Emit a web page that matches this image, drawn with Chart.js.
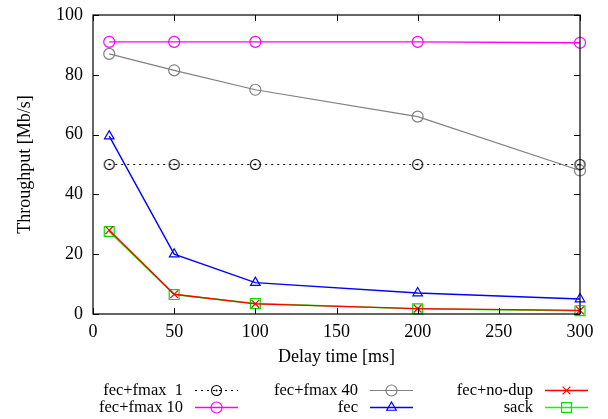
<!DOCTYPE html>
<html lang="en">
<head>
    <meta charset="UTF-8">
    <script src="https://cdn.jsdelivr.net/npm/chart.js"></script>
    <title>Throughput vs delay</title>
    <style>
        body {
            margin: 0;
            padding: 0;
            background-color: #fff;
        }

        .wrap {
            width: 608px;
            height: 419px;
        }
    </style>
</head>
<body>
    <div class="wrap">
        <canvas id="grafico" width="608" height="419"></canvas>
    </div>

    <script>
        // dados
        const delays = [10, 50, 100, 200, 300];
        const fmax1 = [50, 50, 50, 50, 50];
        const fmax10 = [91, 91, 91, 91, 90.7];
        const fmax40 = [87, 81.5, 75, 66, 48];
        const fec = [59.5, 20, 10.5, 7, 5];
        const noDup = [28, 6.6, 3.4, 1.8, 1.2];
        const sack = [27.6, 6.5, 3.5, 1.7, 1.1];

        const xTicks = [0, 50, 100, 150, 200, 250, 300];
        const yTicks = [0, 20, 40, 60, 80, 100];

        const fonte = 'Liberation Serif';

        // círculo com ponto no meio (fec+fmax 1)
        const circuloPonto = document.createElement('canvas');
        circuloPonto.width = 13;
        circuloPonto.height = 13;
        const cp = circuloPonto.getContext('2d');
        cp.strokeStyle = '#000';
        cp.lineWidth = 1.1;
        cp.beginPath();
        cp.arc(6.5, 6.5, 5, 0, Math.PI * 2);
        cp.stroke();
        cp.fillStyle = '#000';
        cp.beginPath();
        cp.arc(6.5, 6.5, 1, 0, Math.PI * 2);
        cp.fill();

        function pontos(ys) {
            return delays.map((d, i) => ({ x: d, y: ys[i] }));
        }

        function serie(label, ys, cor, estilo, raio, extra) {
            return Object.assign({
                label: label,
                data: pontos(ys),
                borderColor: cor,
                backgroundColor: 'rgba(0,0,0,0)',
                pointBorderColor: cor,
                pointBackgroundColor: 'rgba(0,0,0,0)',
                pointStyle: estilo,
                pointRadius: raio,
                pointHoverRadius: raio,
                pointBorderWidth: 1.2,
                borderWidth: 1.4,
                tension: 0,
                fill: false,
                clip: false,
            }, extra || {});
        }

        const datasets = [
            serie('fec+fmax  1', fmax1, '#000000', circuloPonto, 6, { borderDash: [2, 4], borderWidth: 1.2, order: 6 }),
            serie('fec+fmax 10', fmax10, '#ff00ff', 'circle', 5.5, { order: 5 }),
            serie('fec+fmax 40', fmax40, '#808080', 'circle', 5.5, { borderWidth: 1.2, order: 4 }),
            serie('fec', fec, '#0000ff', 'triangle', 5.5, { order: 3 }),
            serie('fec+no-dup', noDup, '#ff0000', 'crossRot', 5.5, { order: 1 }),
            serie('sack', sack, '#00e000', 'rect', 7, { order: 2, borderColor: '#00ff00', pointBorderColor: '#00e000' }),
        ];

        // moldura e marcas internas ao estilo gnuplot
        const moldura = {
            id: 'moldura',
            afterDatasetsDraw(chart) {
                const { ctx, chartArea: a, scales } = chart;
                ctx.save();
                ctx.strokeStyle = '#000';
                ctx.lineWidth = 1.2;
                ctx.strokeRect(a.left, a.top, a.right - a.left, a.bottom - a.top);
                ctx.lineWidth = 1;
                ctx.beginPath();
                yTicks.forEach(v => {
                    const y = Math.round(scales.y.getPixelForValue(v)) + 0.5;
                    ctx.moveTo(a.left, y); ctx.lineTo(a.left + 6, y);
                    ctx.moveTo(a.right, y); ctx.lineTo(a.right - 6, y);
                });
                xTicks.forEach(v => {
                    const x = Math.round(scales.x.getPixelForValue(v)) + 0.5;
                    ctx.moveTo(x, a.bottom); ctx.lineTo(x, a.bottom - 6);
                    ctx.moveTo(x, a.top); ctx.lineTo(x, a.top + 6);
                });
                ctx.stroke();
                ctx.restore();
            }
        };

        // legenda em três colunas embaixo
        const legenda = {
            id: 'legenda',
            afterDraw(chart) {
                const ctx = chart.ctx;
                const colunas = [
                    { texto: 183, l1: 195, l2: 238 },
                    { texto: 358, l1: 370, l2: 413 },
                    { texto: 533, l1: 545, l2: 588 },
                ];
                const linhas = [390, 407];
                ctx.save();
                ctx.font = '16.5px "' + fonte + '"';
                ctx.textAlign = 'right';
                ctx.textBaseline = 'middle';
                chart.data.datasets.forEach((ds, i) => {
                    const c = colunas[Math.floor(i / 2)];
                    const y = linhas[i % 2];
                    ctx.fillStyle = '#000';
                    ctx.fillText(ds.label, c.texto, y + 1);
                    ctx.strokeStyle = ds.borderColor;
                    ctx.lineWidth = ds.borderWidth;
                    ctx.setLineDash(ds.borderDash || []);
                    ctx.beginPath();
                    ctx.moveTo(c.l1, y + 0.5);
                    ctx.lineTo(c.l2, y + 0.5);
                    ctx.stroke();
                    ctx.setLineDash([]);
                    ctx.strokeStyle = ds.pointBorderColor;
                    ctx.fillStyle = 'rgba(0,0,0,0)';
                    ctx.lineWidth = ds.pointBorderWidth;
                    Chart.helpers.drawPoint(ctx, {
                        pointStyle: ds.pointStyle,
                        rotation: 0,
                        radius: ds.pointRadius,
                        borderWidth: ds.pointBorderWidth,
                    }, (c.l1 + c.l2) / 2, y + 0.5);
                });
                ctx.restore();
            }
        };

        const ctx = document.getElementById('grafico').getContext('2d');
        new Chart(ctx, {
            type: 'line',
            data: { datasets: datasets },
            options: {
                responsive: false,
                animation: false,
                events: [],
                layout: {
                    padding: { left: 0, right: 28, top: 15, bottom: 50 }
                },
                plugins: {
                    legend: { display: false },
                    tooltip: { enabled: false },
                },
                scales: {
                    x: {
                        type: 'linear',
                        min: 0,
                        max: 300,
                        afterBuildTicks: (scale) => { scale.ticks = xTicks.map(v => ({ value: v })); },
                        afterFit: (scale) => {
                            scale.height = 55;
                            scale.paddingLeft = 0;
                            scale.paddingRight = 0;
                        },
                        grid: { display: false, drawTicks: false },
                        border: { display: false },
                        ticks: {
                            color: '#000',
                            padding: 7,
                            maxRotation: 0,
                            font: { family: fonte, size: 18 },
                        },
                        title: {
                            display: true,
                            text: 'Delay time [ms]',
                            color: '#000',
                            padding: { top: 0, bottom: 1 },
                            font: { family: fonte, size: 18 },
                        },
                    },
                    y: {
                        min: 0,
                        max: 100,
                        afterBuildTicks: (scale) => { scale.ticks = yTicks.map(v => ({ value: v })); },
                        afterFit: (scale) => {
                            scale.width = 93;
                            scale.paddingTop = 0;
                            scale.paddingBottom = 0;
                        },
                        grid: { display: false, drawTicks: false },
                        border: { display: false },
                        ticks: {
                            color: '#000',
                            padding: 10,
                            font: { family: fonte, size: 18 },
                        },
                        title: {
                            display: true,
                            text: 'Throughput [Mb/s]',
                            color: '#000',
                            padding: { top: 14, bottom: 0 },
                            font: { family: fonte, size: 18 },
                        },
                    },
                },
            },
            plugins: [moldura, legenda],
        });
    </script>
</body>
</html>
